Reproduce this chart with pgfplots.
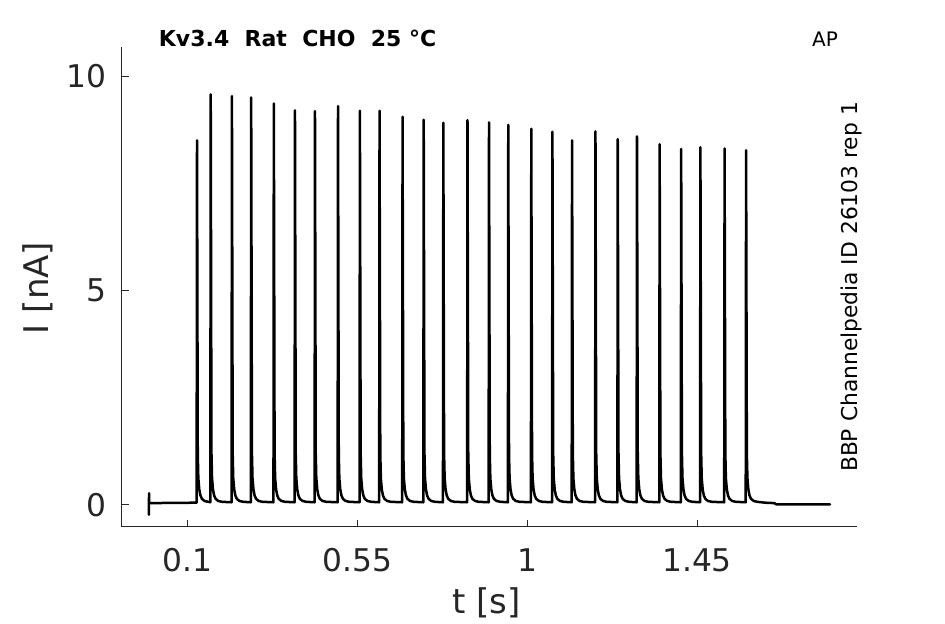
\documentclass[border=0pt]{standalone}
\usepackage{fontspec}
\setmainfont{DejaVu Sans}
\usepackage{pgfplots}
\pgfplotsset{compat=1.18}
\definecolor{axgray}{HTML}{262626}
\begin{document}
\begin{tikzpicture}
\useasboundingbox (0bp,0bp) rectangle (945bp,624bp);
\begin{axis}[
  at={(121.7bp,97.3bp)}, anchor=south west,
  scale only axis, width=735bp, height=479.4bp,
  xmin=-0.074, xmax=1.873, ymin=-0.51, ymax=10.67,
  axis x line*=bottom, axis y line*=left,
  axis line style={axgray, line width=0.8bp, -},
  tick align=inside, major tick length=7bp,
  tick style={axgray, line width=0.8bp},
  xtick={0.1,0.55,1,1.45}, xticklabels={0.1,0.55,1,1.45},
  ytick={0,5,10}, yticklabels={0,5,10},
  /pgf/number format/assume math mode=true,
  xticklabel style={font=\fontsize{31.3bp}{36bp}\selectfont, text=axgray, inner sep=0pt, anchor=north, yshift=-21.6bp},
  yticklabel style={font=\fontsize{31.3bp}{36bp}\selectfont, text=axgray, inner sep=0pt, anchor=east, xshift=-15.5bp},
  xlabel={t [s]}, ylabel={I [nA]},
  xlabel style={font=\fontsize{34bp}{40bp}\selectfont, text=axgray, at={(axis description cs:0.496,-0.159)}, anchor=center},
  ylabel style={font=\fontsize{34bp}{40bp}\selectfont, text=axgray, at={(axis description cs:-0.1137,0.498)}, anchor=center},
  clip=false,
]
\addplot[black, line width=2.5bp, line join=round, line cap=round] coordinates {
(-0.0020,-0.23)(-0.0016,0.27)(-0.0012,0.04)
(0.1245,0.05)(0.1255,8.50)(0.1275,1.2)(0.1290,0.62)(0.1315,0.36)(0.1345,0.22)(0.1385,0.14)(0.1455,0.09)(0.1555,0.07)
(0.1608,0.06)(0.1618,9.57)(0.1638,1.2)(0.1653,0.62)(0.1678,0.36)(0.1708,0.22)(0.1748,0.14)(0.1818,0.09)(0.1918,0.07)
(0.2170,0.06)(0.2180,9.53)(0.2200,1.2)(0.2215,0.62)(0.2240,0.36)(0.2270,0.22)(0.2310,0.14)(0.2380,0.09)(0.2480,0.07)
(0.2680,0.06)(0.2690,9.50)(0.2710,1.2)(0.2725,0.62)(0.2750,0.36)(0.2780,0.22)(0.2820,0.14)(0.2890,0.09)(0.2990,0.07)
(0.3280,0.06)(0.3290,9.36)(0.3310,1.2)(0.3325,0.62)(0.3350,0.36)(0.3380,0.22)(0.3420,0.14)(0.3490,0.09)(0.3590,0.07)
(0.3840,0.06)(0.3850,9.20)(0.3870,1.2)(0.3885,0.62)(0.3910,0.36)(0.3940,0.22)(0.3980,0.14)(0.4050,0.09)(0.4150,0.07)
(0.4370,0.06)(0.4380,9.18)(0.4400,1.2)(0.4415,0.62)(0.4440,0.36)(0.4470,0.22)(0.4510,0.14)(0.4580,0.09)(0.4680,0.07)
(0.4980,0.06)(0.4990,9.30)(0.5010,1.2)(0.5025,0.62)(0.5050,0.36)(0.5080,0.22)(0.5120,0.14)(0.5190,0.09)(0.5290,0.07)
(0.5560,0.06)(0.5570,9.19)(0.5590,1.2)(0.5605,0.62)(0.5630,0.36)(0.5660,0.22)(0.5700,0.14)(0.5770,0.09)(0.5870,0.07)
(0.6080,0.06)(0.6090,9.19)(0.6110,1.2)(0.6125,0.62)(0.6150,0.36)(0.6180,0.22)(0.6220,0.14)(0.6290,0.09)(0.6390,0.07)
(0.6690,0.06)(0.6700,9.05)(0.6720,1.2)(0.6735,0.62)(0.6760,0.36)(0.6790,0.22)(0.6830,0.14)(0.6900,0.09)(0.7000,0.07)
(0.7250,0.06)(0.7260,8.98)(0.7280,1.2)(0.7295,0.62)(0.7320,0.36)(0.7350,0.22)(0.7390,0.14)(0.7460,0.09)(0.7560,0.07)
(0.7770,0.06)(0.7780,8.91)(0.7800,1.2)(0.7815,0.62)(0.7840,0.36)(0.7870,0.22)(0.7910,0.14)(0.7980,0.09)(0.8080,0.07)
(0.8410,0.06)(0.8420,8.97)(0.8440,1.2)(0.8455,0.62)(0.8480,0.36)(0.8510,0.22)(0.8550,0.14)(0.8620,0.09)(0.8720,0.07)
(0.8980,0.06)(0.8990,8.92)(0.9010,1.2)(0.9025,0.62)(0.9050,0.36)(0.9080,0.22)(0.9120,0.14)(0.9190,0.09)(0.9290,0.07)
(0.9490,0.06)(0.9500,8.86)(0.9520,1.2)(0.9535,0.62)(0.9560,0.36)(0.9590,0.22)(0.9630,0.14)(0.9700,0.09)(0.9800,0.07)
(1.0100,0.06)(1.0110,8.77)(1.0130,1.2)(1.0145,0.62)(1.0170,0.36)(1.0200,0.22)(1.0240,0.14)(1.0310,0.09)(1.0410,0.07)
(1.0660,0.06)(1.0670,8.70)(1.0690,1.2)(1.0705,0.62)(1.0730,0.36)(1.0760,0.22)(1.0800,0.14)(1.0870,0.09)(1.0970,0.07)
(1.1180,0.06)(1.1190,8.50)(1.1210,1.2)(1.1225,0.62)(1.1250,0.36)(1.1280,0.22)(1.1320,0.14)(1.1390,0.09)(1.1490,0.07)
(1.1800,0.06)(1.1810,8.71)(1.1830,1.2)(1.1845,0.62)(1.1870,0.36)(1.1900,0.22)(1.1940,0.14)(1.2010,0.09)(1.2110,0.07)
(1.2390,0.06)(1.2400,8.53)(1.2420,1.2)(1.2435,0.62)(1.2460,0.36)(1.2490,0.22)(1.2530,0.14)(1.2600,0.09)(1.2700,0.07)
(1.2900,0.06)(1.2910,8.59)(1.2930,1.2)(1.2945,0.62)(1.2970,0.36)(1.3000,0.22)(1.3040,0.14)(1.3110,0.09)(1.3210,0.07)
(1.3500,0.06)(1.3510,8.41)(1.3530,1.2)(1.3545,0.62)(1.3570,0.36)(1.3600,0.22)(1.3640,0.14)(1.3710,0.09)(1.3810,0.07)
(1.4070,0.06)(1.4080,8.30)(1.4100,1.2)(1.4115,0.62)(1.4140,0.36)(1.4170,0.22)(1.4210,0.14)(1.4280,0.09)(1.4380,0.07)
(1.4580,0.06)(1.4590,8.34)(1.4610,1.2)(1.4625,0.62)(1.4650,0.36)(1.4680,0.22)(1.4720,0.14)(1.4790,0.09)(1.4890,0.07)
(1.5220,0.06)(1.5230,8.31)(1.5250,1.2)(1.5265,0.62)(1.5290,0.36)(1.5320,0.22)(1.5360,0.14)(1.5430,0.09)(1.5530,0.07)
(1.5790,0.06)(1.5800,8.27)(1.5820,1.2)(1.5835,0.62)(1.5860,0.36)(1.5890,0.22)(1.5930,0.14)(1.6000,0.09)(1.6100,0.07)
(1.6300,0.05)(1.6550,0.04)(1.6600,0.01)(1.8020,0.01)
};
\node[anchor=base west, inner sep=0pt, font=\fontsize{22bp}{26bp}\selectfont\bfseries] at (axis description cs:0.0504,1.001) {Kv3.4\ \ Rat\ \ CHO\ \ 25 °C};
\node[anchor=base east, inner sep=0pt, font=\fontsize{20bp}{24bp}\selectfont] at (axis description cs:0.9746,1.001) {AP};
\node[anchor=center, rotate=90, inner sep=0pt, font=\fontsize{21.8bp}{25bp}\selectfont] at (axis description cs:0.9925,0.50) {BBP Channelpedia ID 26103 rep 1};
\end{axis}
\end{tikzpicture}
\end{document}
